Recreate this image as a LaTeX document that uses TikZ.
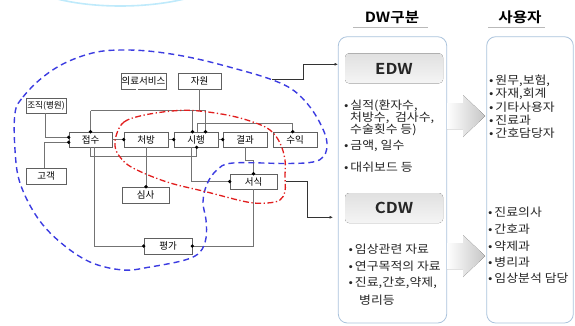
\documentclass[tikz,border=0pt]{standalone}
\usepackage{fontspec}
\setmainfont{Noto Sans CJK KR}[BoldFont={Noto Sans CJK KR Bold}]
\newfontfamily\krw{Noto Sans CJK KR}[FakeStretch=1.12, BoldFont={Noto Sans CJK KR Bold}]
\usetikzlibrary{shadows,arrows.meta}
\definecolor{dashblue}{RGB}{60,60,225}
\definecolor{dashred}{RGB}{225,30,30}
\definecolor{panelline}{RGB}{170,195,220}
\newcommand\dotat[1]{\fill[black] (#1) circle (1.8pt);}
\begin{document}
\begin{tikzpicture}[x=1pt,y=-1pt,
  box/.style={draw=gray!75!black, fill=white, line width=0.6pt, inner sep=0pt,
    minimum height=15pt, font=\fontsize{9.5}{10}\selectfont,
    drop shadow={shadow xshift=0.8pt, shadow yshift=-0.8pt, opacity=0.35}},
  conn/.style={draw=black!55, line width=0.8pt},
  arr/.style={draw=black!80, line width=0.6pt, -{Latex[length=3.5pt,width=3pt]}},
  ptxt/.style={anchor=west, inner sep=0pt, font=\krw\fontsize{11.5}{12}\selectfont, text=black!85},
  ttl/.style={inner sep=0pt, font=\krw\fontsize{14}{15}\selectfont\bfseries},
  hdrtxt/.style={inner sep=0pt, font=\krw\fontsize{15}{16}\selectfont\bfseries, text=black!85},
  hdr/.style={rounded corners=4pt, top color=gray!24, bottom color=gray!8, draw=none},
  panel/.style={draw=panelline, line width=0.8pt, rounded corners=9pt, fill=white},
  bigarrow/.style={left color=white, right color=gray!45, draw=none}
]
\useasboundingbox (0,0) rectangle (575,325);

% faint arc at the top
\draw[cyan!25, line width=1.6pt] (50,-3) .. controls (90,9) and (150,9) .. (192,-3);

% ---------- left diagram: nodes ----------
\node[box, minimum width=40pt, font=\fontsize{8.6}{9}\selectfont] (org)  at (46,105.5) {조직(병원)};
\node[box, minimum width=45pt, minimum height=16pt] (med)  at (143.5,81) {의료서비스};
\node[box, minimum width=43pt, minimum height=16pt] (res)  at (199.5,81) {자원};
\node[box, minimum width=43pt] (rec)  at (90.5,139.5) {접수};
\node[box, minimum width=44pt] (pre)  at (146,139.5) {처방};
\node[box, minimum width=44pt] (exe)  at (196,139.5) {시행};
\node[box, minimum width=44pt] (resu) at (245,139.5) {결과};
\node[box, minimum width=44pt] (rev)  at (295,139.5) {수익};
\node[box, minimum width=40pt, minimum height=16pt] (cust) at (46,176) {고객};
\node[box, minimum width=47pt, minimum height=16pt] (aud)  at (145.5,195) {심사};
\node[box, minimum width=47pt] (form) at (253.5,181.5) {서식};
\node[box, minimum width=48pt, minimum height=16pt] (eval) at (168,246) {평가};

% helper coordinates
\coordinate (bus) at (0,110.5);
\coordinate (revbus) at (0,123);
\coordinate (lowbus) at (0,156.7);
\coordinate (resbus) at (0,160);
\coordinate (cdwbend) at (307.3,217.3);
\coordinate (cdwin) at (333,217.3);
\coordinate (edwstart) at (272,79);
\coordinate (edwbend) at (303.3,64.3);
\coordinate (edwin) at (338,64.3);

% ---------- connectors ----------
\draw[conn, double=white, double distance=1.2pt] ([xshift=-6.5pt]med.south) -- ([xshift=-6.5pt]med.south |- bus);
\draw[conn] (rec.north |- bus) -- ([xshift=9.5pt]exe.north |- bus);
\draw[conn] (res.south) -- (res.south |- bus);
\draw[conn] (rec.north |- bus) -- (rec.north); \dotat{rec.north}
\draw[conn] ([xshift=-3.5pt]exe.north |- bus) -- ([xshift=-3.5pt]exe.north); \dotat{[xshift=-3.5pt]exe.north}
\draw[conn] ([xshift=9.5pt]exe.north |- bus) -- ([xshift=9.5pt]exe.north); \dotat{[xshift=9.5pt]exe.north}
\draw[conn] ([xshift=1pt]exe.north) -- ([xshift=1pt]exe.north |- revbus) -| ([xshift=-2.3pt]rev.north); \dotat{[xshift=-2.3pt]rev.north}

\draw[conn] ([xshift=-1pt]org.south) |- ([yshift=2.2pt]rec.west); \dotat{[yshift=2.2pt]rec.west}
\draw[conn] ([xshift=-1.7pt]cust.north) |- ([yshift=-2.8pt]rec.west); \dotat{[yshift=-2.8pt]rec.west}

\draw[conn] (rec.east) -- (pre.west); \dotat{pre.west}
\draw[conn] (pre.east) -- (exe.west); \dotat{exe.west}
\draw[conn] (exe.east) -- (resu.west); \dotat{resu.west}

\draw[conn] (resu.south) -- (resu.south |- resbus) -| (form.north); \dotat{form.north}
\draw[conn] (rec.south) -- (rec.south |- lowbus) -| ([xshift=0.7pt]exe.south); \dotat{[xshift=0.7pt]exe.south}
\draw[conn] ([xshift=3.5pt]rec.south) |- (eval.west); \dotat{eval.west}
\draw[conn] (pre.south) -- (pre.south |- aud.north); \dotat{pre.south |- aud.north}
\draw[conn] ([xshift=-4.3pt]exe.south) |- (form.west); \dotat{form.west}
\draw[conn] (form.south) |- (eval.east); \dotat{eval.east}

% arrows to the DW panels
\draw[arr] ([xshift=9pt]form.east) -| (cdwbend) -- (cdwin);
\draw[arr] (edwstart) -| (edwbend) -- (edwin);

% ---------- grouping curves ----------
\draw[dashblue, line width=1.4pt, dash pattern=on 6pt off 4pt]
  plot[smooth cycle, tension=0.6] coordinates {
  (15,113) (23,97) (43,77) (67,62) (97,52) (127,50) (157,52) (193,58) (233,68)
  (270,79) (293,90) (310,107) (322,127) (327,143) (324,156) (313,162) (287,163.5)
  (233,163) (217,170) (207,184) (203,202) (206,220) (206,238) (200,252) (185,260)
  (150,267) (123,270) (90,262) (60,242) (37,217) (20,183) (15,150)};
\draw[dashred, line width=1.3pt, dash pattern=on 6pt off 2.5pt on 1.3pt off 2.5pt]
  plot[smooth cycle, tension=0.6] coordinates {
  (117,133) (124,122) (140,116) (167,111.5) (193,110.5) (227,115) (253,122) (270,130)
  (280,143) (285,160) (285,176) (285,191) (280,200) (267,203) (247,202) (207,192)
  (167,182) (133,168) (120,157) (115,146)};

% ---------- right side ----------
\node[ttl] (t1) at (392,17) {DW구분};
\node[ttl] (t2) at (520,17) {사용자};
\draw[gray!55, line width=1pt] (353,27.3) -- (428,27.3);
\draw[gray!55, line width=1pt] (488,27.3) -- (545,27.3);

\draw[panel] (338.3,36.7) rectangle (446.7,323);
\draw[panel] (486.7,36.7) rectangle (573.3,323);

\fill[hdr] (345,53.3) rectangle (443,83.3);
\node[hdrtxt] (edw) at (394,68.5) {EDW};
\fill[hdr] (345,193) rectangle (443,223);
\node[hdrtxt] (cdw) at (394,208) {CDW};

\fill[bigarrow] (447,103) -- (463,103) -- (463,95) -- (485,116) -- (463,137) -- (463,129) -- (447,129) -- cycle;
\fill[bigarrow] (447,243) -- (463,243) -- (463,235) -- (485,256) -- (463,277) -- (463,269) -- (447,269) -- cycle;

% EDW bullets
\node[ptxt] (e1) at (344,106) {•\,실적(환자수,};
\node[ptxt] (e2) at (350,118) {처방수,\ \ 검사수,};
\node[ptxt] (e3) at (350,130) {수술횟수 등)};
\node[ptxt] (e4) at (344,146) {•\,금액, 일수};
\node[ptxt] (e5) at (344,167) {•\,대쉬보드 등};
% CDW bullets
\node[ptxt] (c1) at (348.5,249.3) {•\,임상관련 자료};
\node[ptxt] (c2) at (348.5,266.5) {•\,연구목적의 자료};
\node[ptxt] (c3) at (348.5,283.3) {•\,진료,간호,약제,};
\node[ptxt] (c4) at (359,300) {병리등};
% users
\node[ptxt] (u1) at (489,81) {•\,원무,보험,};
\node[ptxt] (u2) at (489,94) {•\,자재,회계};
\node[ptxt] (u3) at (489,107) {•\,기타사용자};
\node[ptxt] (u4) at (489,120) {•\,진료과};
\node[ptxt] (u5) at (489,133) {•\,간호담당자};
\node[ptxt] (v1) at (488,212) {•\,진료의사};
\node[ptxt] (v2) at (488,229) {•\,간호과};
\node[ptxt] (v3) at (488,246) {•\,약제과};
\node[ptxt] (v4) at (488,262) {•\,병리과};
\node[ptxt] (v5) at (488,278) {•\,임상분석 담당};
\end{tikzpicture}
\end{document}
